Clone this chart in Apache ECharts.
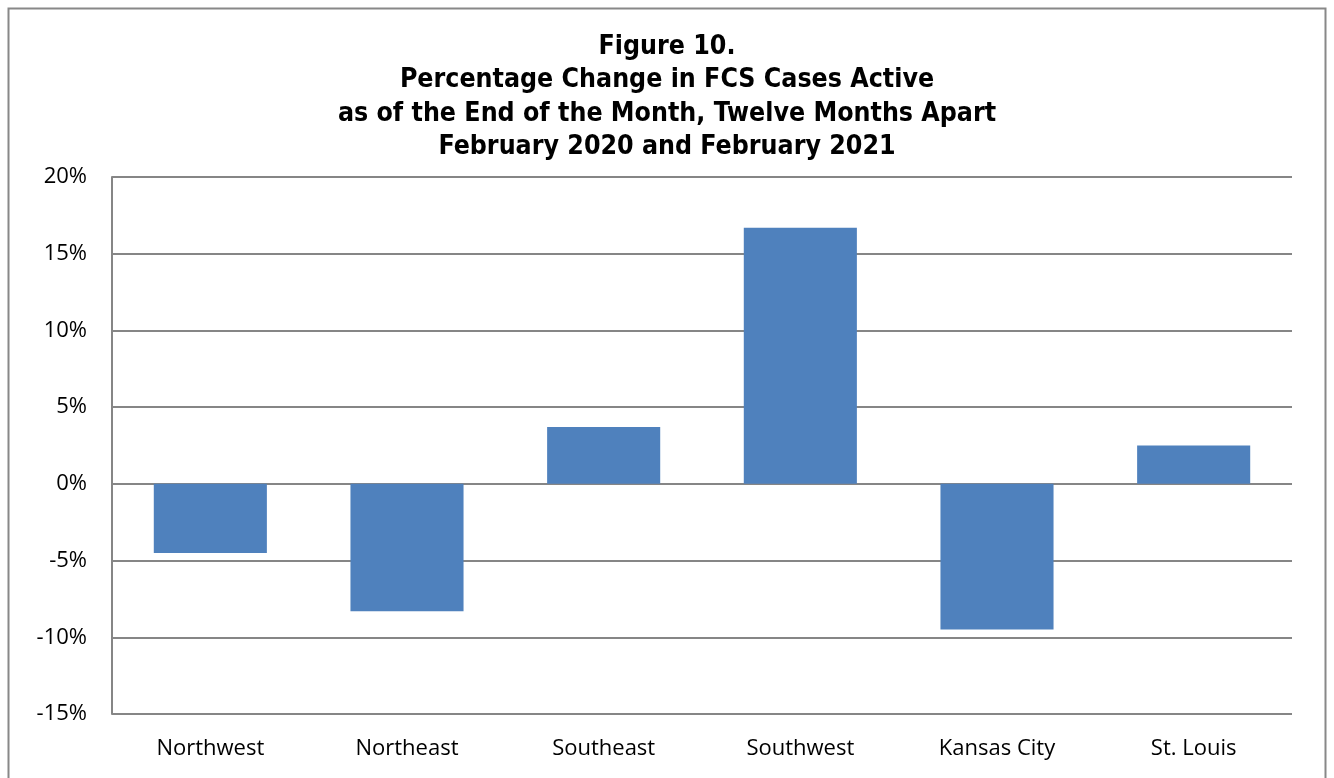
<!DOCTYPE html>
<html><head><meta charset="utf-8">
<script src="https://cdn.jsdelivr.net/npm/echarts@6/dist/echarts.min.js"></script>
<style>html,body{margin:0;padding:0;background:#fff}#c{width:1334px;height:778px}</style>
</head><body><div id="c"></div>
<script>
var categories = ['Northwest','Northeast','Southeast','Southwest','Kansas City','St. Louis'];
var pctChange = [-4.5, -8.3, 3.7, 16.7, -9.5, 2.5];
var yTicks = [-15, -10, -5, 0, 5, 10, 15, 20];
var titleLines = ['Figure 10.','Percentage Change in FCS Cases Active','as of the End of the Month, Twelve Months Apart','February 2020 and February 2021'];

var chart = echarts.init(document.getElementById('c'));
chart.setOption({
  animation: false,
  backgroundColor: '#fff',
  graphic: [{type:'rect', shape:{x:8.5,y:8.5,width:1317,height:800}, style:{fill:'none',stroke:'#888',lineWidth:2}, silent:true}],
  title: {
    text: titleLines.join('\n'),
    left: 'center', top: 25,
    textStyle: {fontFamily:'DejaVu Sans Condensed, DejaVu Sans', fontWeight:'bold', fontSize:26.5, lineHeight:33.5, color:'#000'}
  },
  grid: {left:112, right:42, top:177, bottom:64, containLabel:false},
  xAxis: {
    type:'category', data: categories,
    axisLine:{show:false}, axisTick:{show:false},
    axisLabel:{fontFamily:'Open Sans', fontSize:22, color:'#000', margin:24}
  },
  yAxis: {
    type:'value', min: yTicks[0], max: yTicks[yTicks.length-1], interval: 5,
    axisLine:{show:true, lineStyle:{color:'#868686', width:2}},
    axisTick:{show:false},
    splitLine:{lineStyle:{color:'#868686', width:2}},
    axisLabel:{formatter:'{value}%', fontFamily:'Open Sans', fontSize:22, color:'#000', margin:25}
  },
  series: [{type:'bar', data: pctChange, barWidth:'57.5%', itemStyle:{color:'#4F81BD'}}]
});
</script></body></html>
